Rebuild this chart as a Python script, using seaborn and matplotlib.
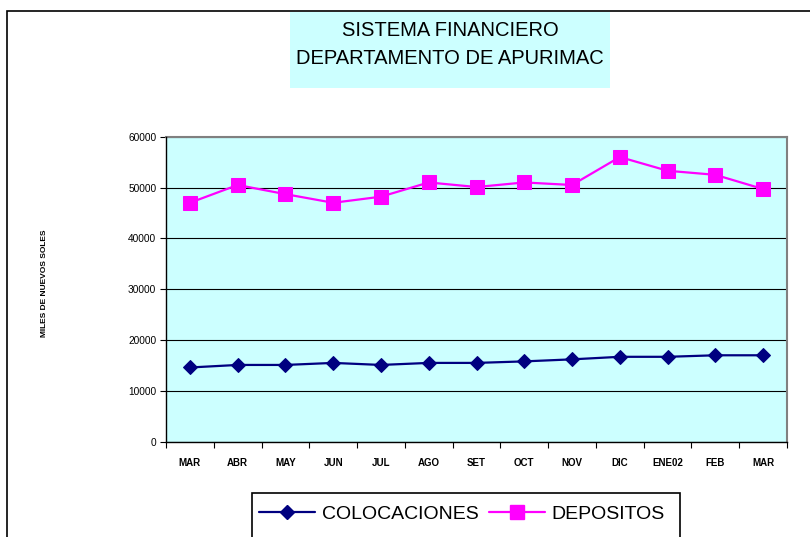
import matplotlib
matplotlib.use("Agg")
import matplotlib.pyplot as plt
import seaborn as sns
import pandas as pd
import numpy as np
from matplotlib.patches import Rectangle
from matplotlib.lines import Line2D

months = ["MAR", "ABR", "MAY", "JUN", "JUL", "AGO", "SET", "OCT", "NOV", "DIC", "ENE02", "FEB", "MAR"]
colocaciones = [14600, 15100, 15100, 15500, 15100, 15500, 15500, 15800, 16200, 16700, 16700, 17000, 17000]
depositos = [47000, 50500, 48700, 47000, 48200, 51000, 50100, 51000, 50500, 56000, 53300, 52500, 49700]
yticks = [0, 10000, 20000, 30000, 40000, 50000, 60000]

sns.set_theme(style="white")
plt.rcParams['font.family'] = ['Liberation Sans', 'DejaVu Sans']
plt.rcParams['text.color'] = 'black'
plt.rcParams['xtick.color'] = 'black'
plt.rcParams['ytick.color'] = 'black'

W, H = 810, 537
fig = plt.figure(figsize=(W / 100, H / 100), dpi=100)
fig.patch.set_facecolor("white")

def fx(px):
    return px / W

def fy(py):
    return 1 - py / H

# outer chart border (cut at right/bottom)
fig.patches.append(Rectangle((fx(7), fy(560)), fx(830) - fx(7), fy(11) - fy(560),
                             transform=fig.transFigure, fill=False, edgecolor="black", lw=1.2))
# title box
fig.patches.append(Rectangle((fx(290), fy(88)), fx(610) - fx(290), fy(12) - fy(88),
                             transform=fig.transFigure, facecolor="#CCFFFF", edgecolor="none"))
fig.text(fx(450), fy(30), "SISTEMA FINANCIERO", ha="center", va="center", fontsize=14.5, color="black")
fig.text(fx(450), fy(58), "DEPARTAMENTO DE APURIMAC", ha="center", va="center", fontsize=14.5, color="black")

ax = fig.add_axes([fx(166), fy(441.7), fx(787) - fx(166), fy(136.7) - fy(441.7)])
ax.set_facecolor("#CCFFFF")

x = np.arange(len(months))
df = pd.DataFrame({
    "x": np.concatenate([x, x]),
    "valor": colocaciones + depositos,
    "serie": ["COLOCACIONES"] * len(x) + ["DEPOSITOS"] * len(x),
})
palette = {"COLOCACIONES": "#000080", "DEPOSITOS": "#FF00FF"}
sns.lineplot(data=df[df.serie == "COLOCACIONES"], x="x", y="valor", color=palette["COLOCACIONES"],
             marker="D", markersize=7, markeredgecolor=palette["COLOCACIONES"], lw=1.6, ax=ax, zorder=3)
sns.lineplot(data=df[df.serie == "DEPOSITOS"], x="x", y="valor", color=palette["DEPOSITOS"],
             marker="s", markersize=9.5, markeredgecolor=palette["DEPOSITOS"], lw=1.6, ax=ax, zorder=3)

ax.set_xlim(-0.5, len(months) - 0.5)
ax.set_ylim(0, 60000)
ax.set_yticks(yticks)
ax.set_yticklabels([str(v) for v in yticks], fontsize=7.3)
ax.set_xticks(x)
ax.set_xticklabels(months, fontsize=7, fontweight="bold")
ax.set_xticks(np.arange(-0.5, len(months), 1.0), minor=True)
ax.tick_params(axis="x", which="major", length=0, pad=12)
ax.tick_params(axis="x", which="minor", length=4, width=0.8, color="black", direction="out", bottom=True)
ax.tick_params(axis="y", which="major", length=4, width=0.8, color="black", direction="out", left=True, pad=3)
ax.set_xlabel("")
ax.set_ylabel("")
ax.grid(axis="y", color="black", lw=0.8)
ax.grid(axis="x", visible=False)
for side in ["left", "bottom"]:
    ax.spines[side].set_color("black")
    ax.spines[side].set_linewidth(1)
for side in ["top", "right"]:
    ax.spines[side].set_color("#808080")
    ax.spines[side].set_linewidth(1.5)
ax.spines["left"].set_zorder(4)
ax.spines["bottom"].set_zorder(4)

fig.text(fx(45), fy(283), "MILES DE NUEVOS SOLES", rotation=90, ha="center", va="center",
         fontsize=6, fontweight="bold", color="black")

# legend box (cut at bottom)
fig.patches.append(Rectangle((fx(252), fy(560)), fx(680) - fx(252), fy(493) - fy(560),
                             transform=fig.transFigure, fill=False, edgecolor="black", lw=1.2))
handles = [Line2D([], [], color="#000080", marker="D", markersize=7, lw=1.6),
           Line2D([], [], color="#FF00FF", marker="s", markersize=9.5, lw=1.6)]
fig.legend(handles, ["COLOCACIONES", "DEPOSITOS"], loc="center", bbox_to_anchor=(fx(462), fy(514)),
           ncol=2, frameon=False, fontsize=14, handlelength=2.9, columnspacing=0.5, handletextpad=0.35,
           labelcolor="black")

fig.savefig("out.png", dpi=100)
